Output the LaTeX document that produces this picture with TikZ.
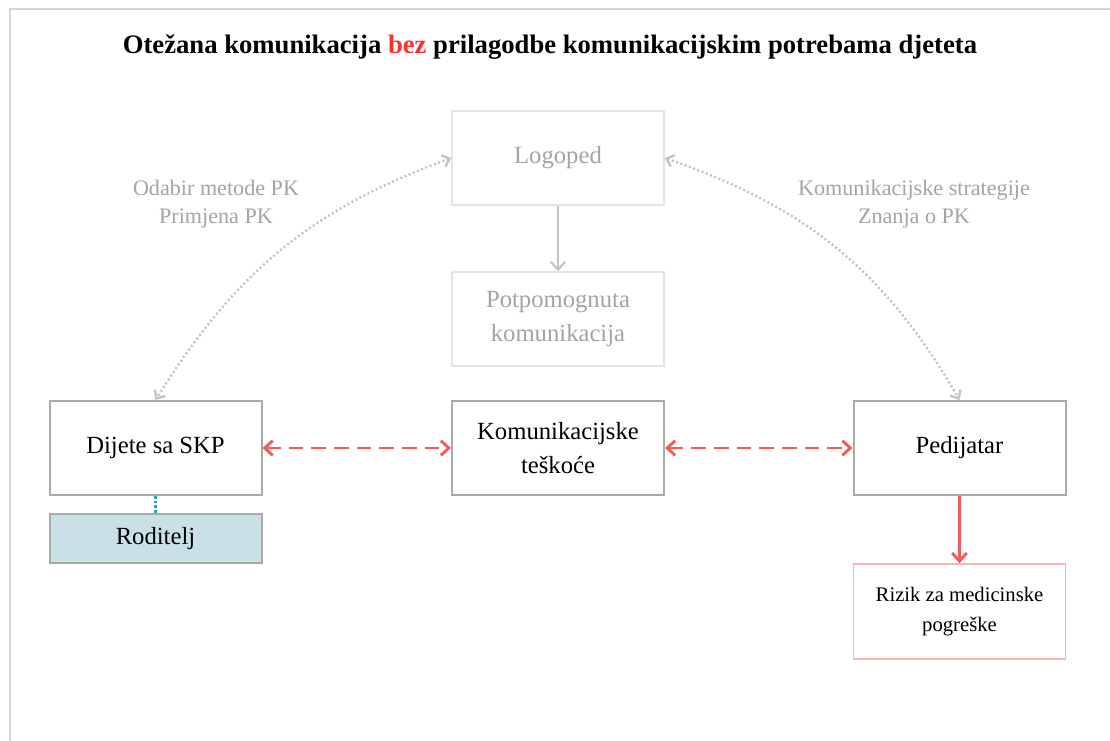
\documentclass[tikz,border=0pt]{standalone}
\usepackage{fontspec}
\setmainfont{Liberation Serif}
\usepackage{tikz}
\usepackage{xcolor}
\usetikzlibrary{
  positioning, arrows.meta, calc,
}
\definecolor{cFrame}     {HTML}{D6D6D6}
\definecolor{cBoxLine}   {HTML}{A9A9A9}
\definecolor{cFaintLine} {HTML}{E4E4E4}
\definecolor{cFaintText} {HTML}{A4A4A4}
\definecolor{cDots}      {HTML}{C4C4C4}
\definecolor{cRisk}      {HTML}{F45A5A}
\definecolor{cRiskLine}  {HTML}{FFB4B4}
\definecolor{cTitleRed}  {HTML}{FF3030}
\definecolor{cParent}    {HTML}{C9E1E6}
\definecolor{cLink}      {HTML}{2AA3B3}

\tikzset{
  box/.style={draw=cBoxLine, line width=1.5pt, fill=white, inner sep=0pt,
    minimum width=159pt, minimum height=70.5pt, align=center,
    font=\fontsize{18.5}{25}\selectfont},
  faintbox/.style={box, draw=cFaintLine, line width=1.1pt, text=cFaintText},
  riskbox/.style={box, draw=cRiskLine, line width=1.3pt,
    minimum height=71.25pt, font=\fontsize{15.5}{22.5}\selectfont},
  parentbox/.style={box, fill=cParent, minimum height=36.75pt},
  note/.style={align=center, text=cFaintText, font=\fontsize{16.6}{21}\selectfont},
  dotlink/.style={draw=cDots, line width=1.8pt, dash pattern=on 1.5pt off 1.9pt,
    {Straight Barb[length=5pt, width=9pt]}-{Straight Barb[length=5pt, width=9pt]}},
  redlink/.style={draw=cRisk, line width=2.2pt, dash pattern=on 11pt off 6pt,
    {Straight Barb[length=6pt, width=11pt]}-{Straight Barb[length=6pt, width=11pt]}},
}

\begin{document}
\begin{tikzpicture}[x=0.75pt, y=-0.75pt]
  \useasboundingbox (0,0) rectangle (1110,740);
  \draw[cFrame, line width=2.2pt] (10,742) -- (10,9) -- (1112,9);

  \node[font=\bfseries\fontsize{20}{24}\selectfont] (title) at (550,47)
    {Otežana komunikacija \textcolor{cTitleRed}{bez} prilagodbe komunikacijskim potrebama djeteta};

  \node[faintbox] (logo)  at (558,158)   {Logoped};
  \node[faintbox] (aac)   at (558,319)   {Potpomognuta\\komunikacija};
  \node[box]      (child) at (155.5,448) {Dijete sa SKP};
  \node[box]      (diff)  at (558,448)   {Komunikacijske\\teškoće};
  \node[box]      (ped)   at (959.5,448) {Pedijatar};
  \node[parentbox] (parent) at (155.5,538.5) {Roditelj};
  \node[riskbox]  (risk)  at (959.5,611.5) {Rizik za medicinske\\pogreške};

  \node[note] (leftnote)  at (216,204) {Odabir metode PK\\Primjena PK};
  \node[note] (rightnote) at (914,204) {Komunikacijske strategije\\Znanja o PK};

  \draw[dotlink] (logo.west) to[out=200, in=58] (child.north);
  \draw[dotlink] (logo.east) to[out=-19, in=120] (ped.north);
  \draw[cDots, line width=1.6pt, -{Straight Barb[length=6pt, width=11pt]}] (logo) -- (aac);

  \draw[redlink] (child) -- (diff);
  \draw[redlink] (diff) -- (ped);
  \draw[cRisk, line width=2.2pt, -{Straight Barb[length=6pt, width=11pt]}] (ped) -- (risk);
  \draw[cLink, line width=2pt, dash pattern=on 2pt off 1.5pt] (child) -- (parent);
\end{tikzpicture}
\end{document}
